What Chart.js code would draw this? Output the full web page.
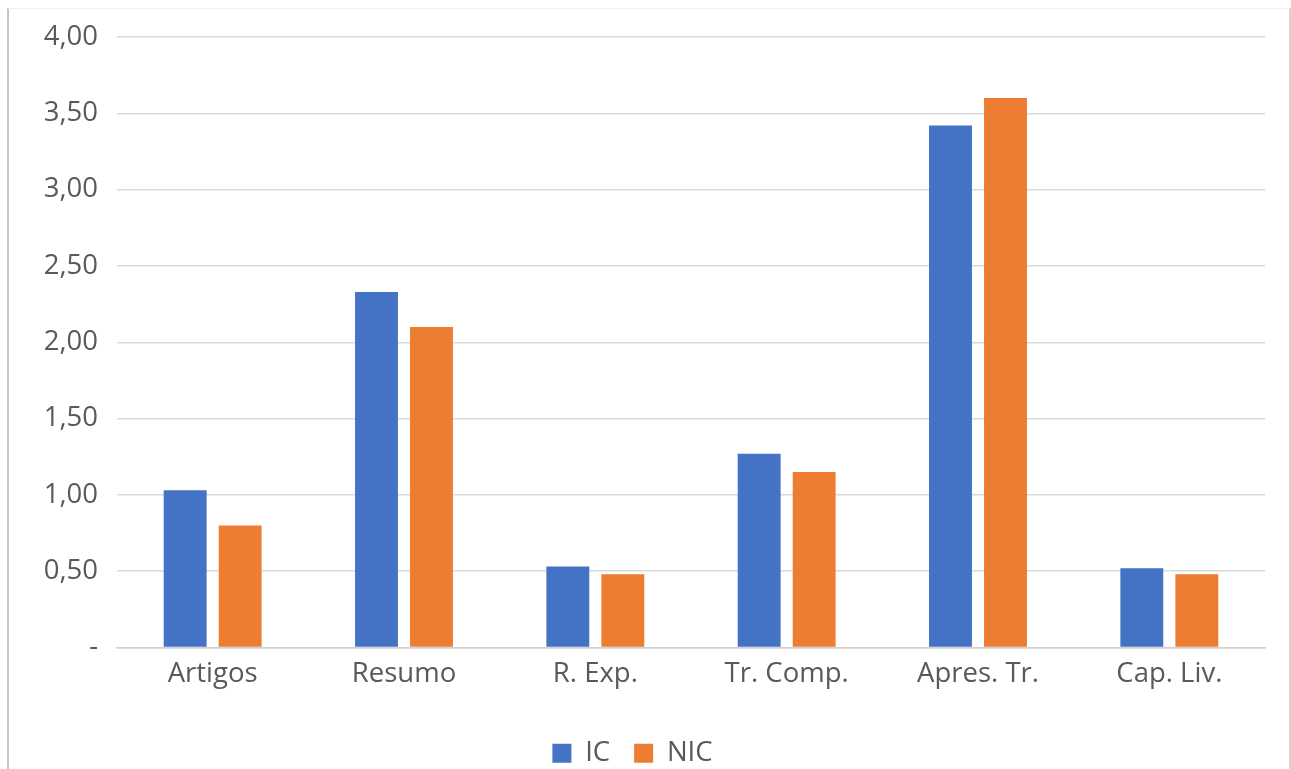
<!DOCTYPE html>
<html>
<head>
<meta charset="utf-8">
<script src="https://cdn.jsdelivr.net/npm/chart.js@4.4.1/dist/chart.umd.min.js"></script>
<style>
  html, body { margin: 0; padding: 0; background: #ffffff; overflow: hidden; }
  #wrap { position: absolute; left: 0; top: 0; width: 1291px; height: 769px; }
  #frame {
    position: absolute; left: 7px; top: 8px; width: 1280px; height: 770px;
    border-left: 2px solid #c4c4c4; border-right: 2px solid #d4d4d4; border-top: 1px solid #f0f0f0;
    pointer-events: none;
  }
</style>
</head>
<body>
<div id="wrap"><canvas id="chart" width="1291" height="769"></canvas></div>
<div id="frame"></div>
<script>
// Categories and the two series (IC / NIC)
const categories = ['Artigos', 'Resumo', 'R. Exp.', 'Tr. Comp.', 'Apres. Tr.', 'Cap. Liv.'];
const icValues = [1.03, 2.33, 0.53, 1.27, 3.42, 0.52];
const nicValues = [0.80, 2.10, 0.48, 1.15, 3.60, 0.48];
const seriesNames = ['IC', 'NIC'];
const yTickValues = [0, 0.5, 1, 1.5, 2, 2.5, 3, 3.5, 4];

// Accounting-style tick format: zero shows as a dash, decimals use a comma
function formatTick(v) {
  if (Math.abs(v) < 1e-9) return '-';
  return v.toFixed(2).replace('.', ',');
}

const FONT = "'Open Sans', 'Noto Sans', sans-serif";
const TEXT = '#595959';
const FONT_SIZE = 27.5;

new Chart(document.getElementById('chart'), {
  type: 'bar',
  data: {
    labels: categories,
    datasets: [
      { label: seriesNames[0], data: icValues, backgroundColor: '#4472C4' },
      { label: seriesNames[1], data: nicValues, backgroundColor: '#ED7D31' }
    ]
  },
  options: {
    responsive: false,
    animation: false,
    devicePixelRatio: 1,
    categoryPercentage: 0.575,
    barPercentage: 0.78,
    layout: { padding: { left: 0, right: 26, top: 37, bottom: -8 } },
    plugins: {
      tooltip: { enabled: false },
      legend: {
        position: 'bottom',
        labels: {
          boxWidth: 19,
          boxHeight: 19,
          padding: 24,
          color: TEXT,
          font: { family: FONT, size: FONT_SIZE }
        }
      }
    },
    scales: {
      x: {
        grid: { display: false, drawTicks: false },
        border: { display: true, color: '#d0d0d0', width: 1.5 },
        ticks: { color: TEXT, padding: 10, font: { family: FONT, size: FONT_SIZE } },
        afterFit(scale) { scale.height = 68; }
      },
      y: {
        min: 0,
        max: 4,
        afterBuildTicks(scale) { scale.ticks = yTickValues.map(v => ({ value: v })); },
        grid: { color: '#d9d9d9', lineWidth: 1.5, drawTicks: false },
        border: { display: false },
        ticks: {
          color: TEXT,
          padding: 19,
          font: { family: FONT, size: FONT_SIZE },
          callback: (v) => formatTick(v)
        },
        afterFit(scale) { scale.width = 117; }
      }
    }
  }
});
</script>
</body>
</html>
